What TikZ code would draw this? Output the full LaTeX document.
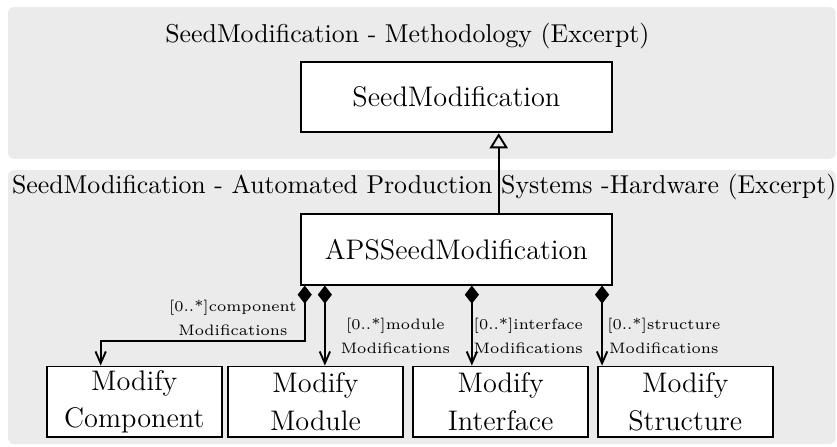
\documentclass[tikz,border=0pt]{standalone}
\usepackage{amsmath}
\usepackage{tikz}
\usetikzlibrary{arrows.meta}
\usepackage{xcolor}
\colorlet{panel gray}{black!8}

\tikzset{
	panel/.style={fill=panel gray, rounded corners=0.09cm},
	umlclass/.style={draw, thick, fill=white, inner sep=0pt, minimum width=4.64cm, minimum height=1.05cm, font=\fontsize{12}{16}\selectfont},
	subclass/.style={umlclass, minimum width=2.61cm, align=center},
	role/.style={font=\fontsize{6.4}{9.9}\selectfont, align=center},
	compose/.style={thick, {Diamond[length=7.7pt,width=6pt]}-{Straight Barb[length=5pt,width=4.4pt]}},
	generalize/.style={thick, -{Triangle[open,length=6.4pt,width=7.7pt]}}
}

\begin{document}
\begin{tikzpicture}
			\useasboundingbox (0,0) rectangle (12.47,6.646);
			\fill[panel] (0.12, 4.28) rectangle (12.45, 6.54);
			\fill[panel] (0.12, 0.03) rectangle (12.45, 4.11);
			\node[anchor=base, font=\fontsize{10.95}{13.6}\selectfont] (titleMeth) at (6.07, 6.02){SeedModification - Methodology (Excerpt)};
			\node[anchor=base, font=\fontsize{10.95}{13.6}\selectfont] (titleAps) at (6.32, 3.77){SeedModification - Automated Production Systems -Hardware (Excerpt)};
			\node[umlclass] (seedMod) at (6.80, 5.20){SeedModification};
			\node[umlclass] (apsSeedMod) at (6.80, 2.93){APSSeedModification};
			\node[subclass] (modComp) at (2.00, 0.66){Modify\\Component};
			\node[subclass] (modModule) at (4.70, 0.66){Modify\\Module};
			\node[subclass] (modIntf) at (7.46, 0.66){Modify\\Interface};
			\node[subclass] (modStruct) at (10.21, 0.66){Modify\\Structure};
			\coordinate (genX) at (7.43, 0);
			\coordinate (compX) at (4.54, 0);
			\coordinate (moduleX) at (4.84, 0);
			\coordinate (intfX) at (7.03, 0);
			\coordinate (structX) at (8.97, 0);
			\coordinate (compBend) at (1.50, 1.56);
			\draw[generalize] (apsSeedMod.north -| genX) -- (seedMod.south -| genX);
			\draw[compose] (apsSeedMod.south -| compX) |- (compBend) -- (modComp.north -| compBend);
			\draw[compose] (apsSeedMod.south -| moduleX) -- (modModule.north -| moduleX);
			\draw[compose] (apsSeedMod.south -| intfX) -- (modIntf.north -| intfX);
			\draw[compose] (apsSeedMod.south -| structX) -- (modStruct.north -| structX);
			\node[role] (roleComp) at (3.47, 1.91){[0..*]component\\Modifications};
			\node[role] (roleModule) at (5.89, 1.64){[0..*]module\\Modifications};
			\node[role] (roleIntf) at (7.87, 1.64){[0..*]interface\\Modifications};
			\node[role] (roleStruct) at (9.89, 1.64){[0..*]structure\\Modifications};
		\end{tikzpicture}
\end{document}
